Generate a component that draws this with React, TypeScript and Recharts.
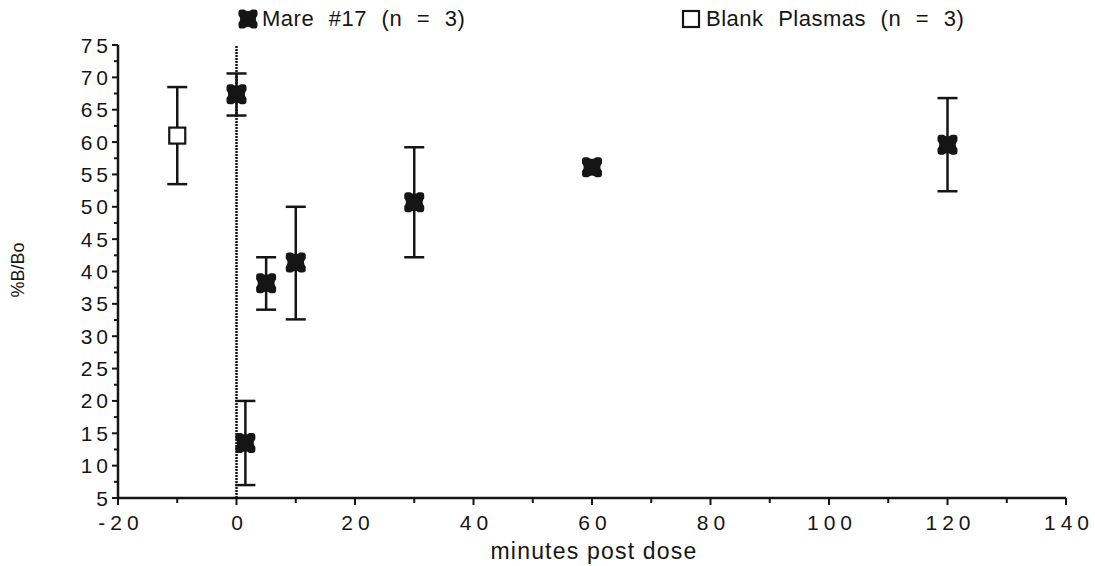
import React from 'react'
import {
  ScatterChart,
  Scatter,
  XAxis,
  YAxis,
  ErrorBar,
  ReferenceLine,
} from 'recharts'

// values
const mareMinutes = [0, 1.5, 5, 10, 30, 60, 120]
const mareValues = [67.4, 13.5, 38.2, 41.4, 50.7, 56.1, 59.6]
const mareErrLow = [3.3, 6.5, 4.1, 8.8, 8.5, 0.8, 7.2]
const mareErrHigh = [3.2, 6.5, 4.0, 8.6, 8.5, 0.8, 7.2]

const blankMinutes = [-10]
const blankValues = [61]
const blankErrLow = [7.5]
const blankErrHigh = [7.5]

const xTicks = [-20, -10, 0, 10, 20, 30, 40, 50, 60, 70, 80, 90, 100, 110, 120, 130, 140]
const yTicks = [5, 7.5, 10, 12.5, 15, 17.5, 20, 22.5, 25, 27.5, 30, 32.5, 35, 37.5, 40, 42.5, 45, 47.5, 50, 52.5, 55, 57.5, 60, 62.5, 65, 67.5, 70, 72.5, 75]

const mareData = mareMinutes.map((m, i) => ({
  x: m,
  y: mareValues[i],
  err: [mareErrLow[i], mareErrHigh[i]],
}))
const blankData = blankMinutes.map((m, i) => ({
  x: m,
  y: blankValues[i],
  err: [blankErrLow[i], blankErrHigh[i]],
}))

const INK = '#151515'
const FONT = '"Liberation Sans", Arial, Helvetica, sans-serif'

// filled square with notched sides and rounded corners
const bowtie =
  'M -7,-10 L -4,-10 Q 0,-6.5 4,-10 L 7,-10 Q 10,-10 10,-7 L 10,-4 Q 6.5,0 10,4 L 10,7 Q 10,10 7,10 ' +
  'L 4,10 Q 0,6.5 -4,10 L -7,10 Q -10,10 -10,7 L -10,4 Q -6.5,0 -10,-4 L -10,-7 Q -10,-10 -7,-10 Z'

const MareShape = (props: any) => {
  const { cx, cy } = props
  return <path d={bowtie} transform={`translate(${cx},${cy})`} fill={INK} />
}

const BlankShape = (props: any) => {
  const { cx, cy } = props
  return (
    <rect x={cx - 8} y={cy - 8} width={16} height={16} fill="#fff" stroke={INK} strokeWidth={2.2} />
  )
}

const YTick = (props: any) => {
  const { x, y, payload } = props
  const major = payload.value % 5 === 0
  return (
    <g>
      <line x1={x} x2={x - (major ? 6 : 4)} y1={y} y2={y} stroke={INK} strokeWidth={2} />
      {major && (
        <text x={x - 6} y={y} dy={7.5} textAnchor="end" fontSize={21} fill={INK}
          style={{ fontFamily: FONT, letterSpacing: 4 }}>
          {payload.value}
        </text>
      )}
    </g>
  )
}

const XTick = (props: any) => {
  const { x, y, payload } = props
  const major = payload.value % 20 === 0
  return (
    <g>
      <line x1={x} x2={x} y1={y} y2={y + (major ? 7 : 5)} stroke={INK} strokeWidth={2} />
      {major && (
        <text x={x + 3} y={y + 32} textAnchor="middle" fontSize={21} fill={INK}
          style={{ fontFamily: FONT, letterSpacing: 5 }}>
          {payload.value}
        </text>
      )}
    </g>
  )
}

export default function App() {
  return (
    <div style={{ position: 'absolute', left: 0, top: 0, width: 1095, height: 566, background: '#fff', fontFamily: FONT, color: INK }}>
      <ScatterChart width={1095} height={566} margin={{ top: 45, right: 29, left: 0, bottom: 0 }}>
        <XAxis
          type="number"
          dataKey="x"
          domain={[-20, 140]}
          ticks={xTicks}
          interval={0}
          tickSize={0}
          tickMargin={0}
          tickLine={false}
          tick={<XTick />}
          height={68}
          axisLine={{ stroke: INK, strokeWidth: 2.5 }}
          allowDataOverflow
        />
        <YAxis
          type="number"
          dataKey="y"
          domain={[5, 75]}
          ticks={yTicks}
          interval={0}
          tickSize={0}
          tickMargin={0}
          tickLine={false}
          tick={<YTick />}
          width={118}
          axisLine={{ stroke: INK, strokeWidth: 2.5 }}
          allowDataOverflow
        />
        <ReferenceLine x={0} stroke={INK} strokeWidth={2.5} strokeDasharray="2 1" />
        <Scatter data={blankData} shape={<BlankShape />} isAnimationActive={false}>
          <ErrorBar dataKey="err" direction="y" width={10} stroke={INK} strokeWidth={2.5} />
        </Scatter>
        <Scatter data={mareData} shape={<MareShape />} isAnimationActive={false}>
          <ErrorBar dataKey="err" direction="y" width={10} stroke={INK} strokeWidth={2.5} />
        </Scatter>
      </ScatterChart>

      {/* legend */}
      <div style={{ position: 'absolute', left: 237, top: 6, display: 'flex', alignItems: 'center', fontSize: 22, letterSpacing: 0.5, wordSpacing: 8 }}>
        <svg width={22} height={22} style={{ marginRight: 3 }}>
          <path d={bowtie} transform="translate(11,11) scale(0.95)" fill={INK} />
        </svg>
        <span>Mare #17 (n = 3)</span>
      </div>
      <div style={{ position: 'absolute', left: 681, top: 6, display: 'flex', alignItems: 'center', fontSize: 22, letterSpacing: 0.5, wordSpacing: 8 }}>
        <svg width={20} height={22} style={{ marginRight: 5 }}>
          <rect x={2} y={3} width={16} height={16} fill="#fff" stroke={INK} strokeWidth={2.2} />
        </svg>
        <span>Blank Plasmas (n = 3)</span>
      </div>

      {/* axis titles */}
      <div style={{ position: 'absolute', left: 18, top: 270, transform: 'translate(-50%, -50%) rotate(-90deg)', fontSize: 18, whiteSpace: 'nowrap' }}>
        %B/Bo
      </div>
      <div style={{ position: 'absolute', left: 594, top: 551, transform: 'translate(-50%, -50%)', fontSize: 23, letterSpacing: 1.2, whiteSpace: 'nowrap' }}>
        minutes post dose
      </div>
    </div>
  )
}
